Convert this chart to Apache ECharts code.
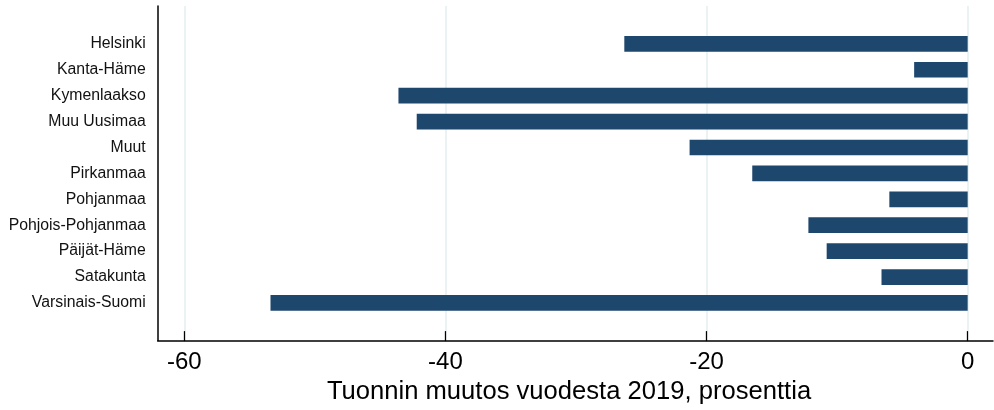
<!DOCTYPE html>
<html><head><meta charset="utf-8">
<script src="https://cdn.jsdelivr.net/npm/echarts@6/dist/echarts.min.js"></script>
<style>html,body{margin:0;padding:0;background:#fff}#c{width:994px;height:410px}</style>
</head><body><div id="c"></div>
<script>
const categories = ["Helsinki","Kanta-Häme","Kymenlaakso","Muu Uusimaa","Muut","Pirkanmaa","Pohjanmaa","Pohjois-Pohjanmaa","Päijät-Häme","Satakunta","Varsinais-Suomi"];
const values = [-26.3,-4.1,-43.6,-42.2,-21.3,-16.5,-6.0,-12.2,-10.8,-6.6,-53.4];
const xTickMin = -60, xTickMax = 0, xTickStep = 20;
const xRangeMin = -62.04, xRangeMax = 1.94;
const xTitle = "Tuonnin muutos vuodesta 2019, prosenttia";

const FONT = "'Liberation Sans', Arial, sans-serif";
const chart = echarts.init(document.getElementById('c'), null, {renderer:'canvas'});
chart.setOption({
  animation:false,
  backgroundColor:'#fff',
  grid:[
    {left:184.3, width:783.4, top:6, height:334.5},
    {left:157.7, right:1, top:6, height:334.5},
    {left:157.7, right:1, top:30.9, height:285}
  ],
  xAxis:[
    {gridIndex:0, type:'value', min:xTickMin, max:xTickMax, interval:xTickStep,
     axisLine:{show:false},
     axisTick:{show:true, length:10, lineStyle:{color:'#000', width:1.3}},
     axisLabel:{show:true, margin:19, fontSize:24, color:'#000', fontFamily:FONT},
     splitLine:{show:true, lineStyle:{color:'#e5eef1', width:1.5}},
     name:xTitle, nameLocation:'middle', nameGap:43,
     nameTextStyle:{fontSize:25.6, color:'#000', fontFamily:FONT, padding:[0,14,0,0]}},
    {gridIndex:1, type:'value', min:xRangeMin, max:xRangeMax,
     axisLine:{show:true, onZero:false, lineStyle:{color:'#000', width:1.5}},
     axisTick:{show:false}, axisLabel:{show:false}, splitLine:{show:false}},
    {gridIndex:2, type:'value', min:xRangeMin, max:xRangeMax, show:false}
  ],
  yAxis:[
    {gridIndex:0, type:'value', show:false},
    {gridIndex:1, type:'value', min:0, max:1,
     axisLine:{show:true, onZero:false, lineStyle:{color:'#000', width:1.5}},
     axisTick:{show:false}, axisLabel:{show:false}, splitLine:{show:false}},
    {gridIndex:2, type:'category', data:categories, inverse:true,
     axisLine:{show:false}, axisTick:{show:false},
     axisLabel:{show:true, margin:12, fontSize:15.8, color:'#111', fontFamily:FONT},
     splitLine:{show:false}}
  ],
  series:[
    {type:'bar', xAxisIndex:2, yAxisIndex:2, data:values, barWidth:15.7,
     itemStyle:{color:'#1e476e'}}
  ]
});
</script></body></html>
